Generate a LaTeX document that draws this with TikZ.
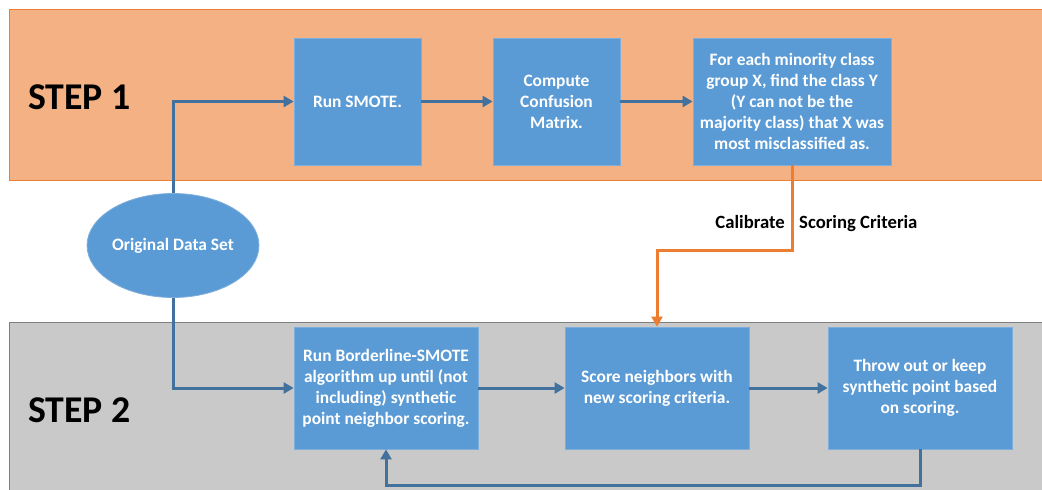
\documentclass[tikz,border=0pt]{standalone}
\usepackage{fontspec}
\setmainfont{Carlito}
\usetikzlibrary{arrows.meta,shapes.geometric}
\definecolor{boxblue}{HTML}{5B9BD5}
\definecolor{boxedge}{HTML}{7EAEDC}
\definecolor{arrowblue}{HTML}{41719C}
\definecolor{bandorange}{HTML}{F4B183}
\definecolor{lineorange}{HTML}{ED7D31}
\definecolor{bandgray}{HTML}{C9C9C9}
\definecolor{graybord}{HTML}{7F7F7F}
\begin{document}
\begin{tikzpicture}[x=1pt,y=-1pt,
  proc/.style={rectangle, fill=boxblue, draw=boxedge, line width=0.8pt, text=white,
    font=\bfseries\fontsize{17.4}{21}\selectfont, align=center, inner sep=0pt},
  flow/.style={draw=arrowblue, line width=3pt, -{Triangle[length=10pt,width=11pt]}},
  oflow/.style={draw=lineorange, line width=3pt, -{Triangle[length=10pt,width=11pt]}},
  steplabel/.style={font=\bfseries\fontsize{37.8}{42}\selectfont, text=black, anchor=west, inner sep=0pt},
  edgelabel/.style={font=\bfseries\fontsize{18.7}{21}\selectfont, text=black, inner sep=0pt}
]
\useasboundingbox (0,0) rectangle (1042,490);
\fill[white] (0,0) rectangle (1042,490);
% bands
\fill[bandorange] (9,9) rectangle (1045,180);
\draw[lineorange, line width=1pt] (1045,9) -- (9,9) -- (9,180) -- (1045,180);
\fill[bandgray] (9,322) rectangle (1045,495);
\draw[graybord, line width=1pt] (9,495) -- (9,322) -- (1045,322);
% labels
\node[steplabel] (s1) at (28,97) {STEP 1};
\node[steplabel] (s2) at (28,410) {STEP 2};
% nodes
\node[proc, minimum width=127pt, minimum height=127pt] (smote) at (357.5,101.5) {Run SMOTE.};
\node[proc, minimum width=127pt, minimum height=127pt] (conf) at (556.5,101.5) {Compute\\Confusion\\Matrix.};
\node[proc, minimum width=198pt, minimum height=127pt] (foreach) at (792,101.5)
  {For each minority class\\group X, find the class Y\\(Y can not be the\\majority class) that X was\\most misclassified as.};
\node[ellipse, fill=boxblue, draw=boxedge, line width=0.8pt, minimum width=156pt, minimum height=104pt,
  inner sep=0pt, text=white, font=\bfseries\fontsize{17.4}{21}\selectfont] (orig) at (173,245.5) {Original Data Set};
\node[proc, minimum width=184pt, minimum height=122pt] (border) at (386,388)
  {Run Borderline-SMOTE\\algorithm up until (not\\including) synthetic\\point neighbor scoring.};
\node[proc, minimum width=184pt, minimum height=122pt] (score) at (657,388)
  {Score neighbors with\\new scoring criteria.};
\node[proc, minimum width=184pt, minimum height=122pt] (throw) at (920,388)
  {Throw out or keep\\synthetic point based\\on scoring.};
% connectors
\draw[flow] (orig.north) |- (smote.west);
\draw[flow] (smote.east) -- (conf.west);
\draw[flow] (conf.east) -- (foreach.west);
\draw[flow] (orig.south) |- (border.west);
\draw[flow] (border.east) -- (score.west);
\draw[flow] (score.east) -- (throw.west);
\coordinate (fb) at (920,485);
\draw[flow] (throw.south) -- (fb) -| (border.south);
\coordinate (ob) at (792,250);
\draw[oflow] (foreach.south) -- (ob) -| (score.north);
% edge label
\node[edgelabel, anchor=base east] (cal) at (785,228) {Calibrate};
\node[edgelabel, anchor=base west] (crit) at (799,228) {Scoring Criteria};
\end{tikzpicture}
\end{document}
